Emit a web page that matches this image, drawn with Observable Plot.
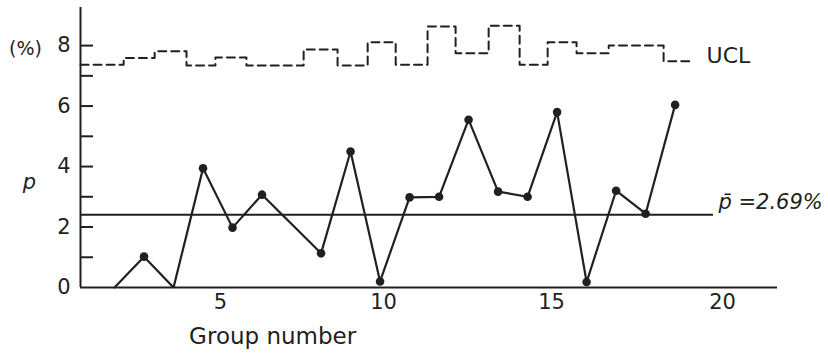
<!DOCTYPE html>
<html><head><meta charset="utf-8">
<script src="https://cdn.jsdelivr.net/npm/d3@7"></script>
<script src="https://cdn.jsdelivr.net/npm/@observablehq/plot@0.6"></script>
<style>
body{margin:0;background:#fff;}
#chart svg{display:block;}
</style>
</head><body><div id="chart"></div>
<script>
// Group numbers and proportion defective p (%) (group 7 has no plotted point)
const groups  = [1, 2, 3, 4, 5, 6, 7, 8, 9, 10, 11, 12, 13, 14, 15, 16, 17, 18, 19, 20];
const pValues = [0, 1.02, 0, 3.94, 1.98, 3.07, null, 1.13, 4.5, 0.2, 2.98, 3.0, 5.55, 3.17, 3.0, 5.8, 0.18, 3.2, 2.44, 6.04];

// UCL step line: start of each step (group units) and its level (%)
const uclFrom  = [-0.15, 1.31, 2.36, 3.44, 4.42, 5.47, 7.41, 8.56, 9.58, 10.53, 11.61, 12.56, 13.68, 14.73, 15.68, 16.66, 17.75, 19.61];
const uclLevel = [7.37, 7.59, 7.81, 7.34, 7.61, 7.34, 7.87, 7.34, 8.11, 7.37, 8.63, 7.75, 8.66, 7.37, 8.11, 7.75, 8.0, 7.48];
const uclTo = 20.59;

// centre line
const pBarDrawn = 2.41;
const pBarEnd = 21.3;
const pBarLabel = "p\u0304 =2.69%";

// axes
const yTicks = [1, 2, 3, 4, 5, 6, 7, 8];
const yTickLabels = [0, 2, 4, 6, 8];
const xTickLabels = ["5", "10", "15", "20"];
const xTickAt = [4.59, 10.12, 15.81, 21.61];
const xDomain = [-0.153, 23.47];
const yDomain = [0, 9.26];

const ink = "#231f20";
const W = 828, H = 359, mL = 80, mR = 51, mT = 7, mB = 72;

const pts = groups.map((g, i) => ({g, p: pValues[i]})).filter(d => d.p != null);
const ucl = uclFrom.map((x, i) => ({x, y: uclLevel[i]}));
ucl.push({x: uclTo, y: uclLevel[uclLevel.length - 1]});

const chart = Plot.plot({
  width: W, height: H,
  marginLeft: mL, marginRight: mR, marginTop: mT, marginBottom: mB,
  style: {fontFamily: "'DejaVu Sans', sans-serif", fontSize: "21px", color: ink, background: "#fff"},
  x: {domain: xDomain, axis: null},
  y: {domain: yDomain, axis: null},
  marks: [
    // y tick marks (inside) and labels
    Plot.ruleY(yTicks, {y: d => d, insetRight: (W - mL - mR) - 13, stroke: ink, strokeWidth: 2}),
    Plot.axisY({ticks: yTickLabels, tickSize: 0, tickPadding: 10, label: null, fill: ink}),
    // axis lines
    Plot.ruleX([xDomain[0]], {stroke: ink, strokeWidth: 2}),
    Plot.ruleY([0], {stroke: ink, strokeWidth: 2}),
    // x tick labels
    Plot.text(xTickLabels, {x: (d, i) => xTickAt[i], text: d => d, frameAnchor: "bottom", dy: 21, fill: ink}),
    // centre line
    Plot.ruleY([pBarDrawn], {x1: xDomain[0], x2: pBarEnd, stroke: ink, strokeWidth: 2}),
    // UCL
    Plot.line(ucl, {x: "x", y: "y", curve: "step-after", stroke: ink, strokeWidth: 2, strokeDasharray: "8,5"}),
    // p series
    Plot.line(pts, {x: "g", y: "p", stroke: ink, strokeWidth: 2.2, strokeLinejoin: "miter"}),
    Plot.dot(pts.filter(d => d.p > 0), {x: "g", y: "p", r: 4.3, fill: ink, stroke: "none"}),
    // labels
    Plot.text([{x: uclTo, y: uclLevel[uclLevel.length - 1], t: "UCL"}], {x: "x", y: "y", text: "t", dx: 14, dy: -5, textAnchor: "start", fontSize: 22, fill: ink}),
    Plot.text([{x: pBarEnd, y: pBarDrawn, t: pBarLabel}], {x: "x", y: "y", text: "t", dx: 5, dy: -12, textAnchor: "start", fontSize: 21, fontStyle: "italic", fill: ink}),
    Plot.text([{y: 8, t: "(%)"}], {y: "y", text: "t", frameAnchor: "left", textAnchor: "middle", dx: -55, dy: 3, fontSize: 19, fill: ink}),
    Plot.text([{y: 3.47, t: "p"}], {y: "y", text: "t", frameAnchor: "left", textAnchor: "middle", dx: -51, fontSize: 21, fontStyle: "italic", fill: ink}),
    Plot.text([{x: 6.36, t: "Group number"}], {x: "x", text: "t", frameAnchor: "bottom", dy: 56, fontSize: 23, fill: ink})
  ]
});
document.getElementById("chart").appendChild(chart);
</script>
</body></html>
